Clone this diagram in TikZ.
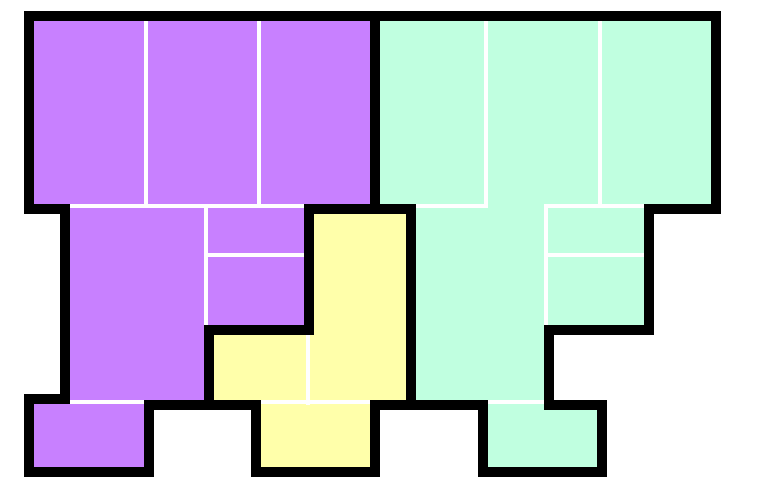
\documentclass[tikz,border=0pt]{standalone}
\definecolor{purp}{RGB}{200,128,255}
\definecolor{mint}{RGB}{192,255,224}
\definecolor{lemon}{RGB}{255,255,170}
\tikzset{
  outline/.style={draw=black,line width=10pt,line join=miter},
  inner/.style={draw=white,line width=4pt,line cap=butt},
}
\begin{document}
\begin{tikzpicture}[x=1pt,y=-1pt]
\useasboundingbox (0,0) rectangle (764,495);
% fills
\fill[purp] (29,16) -- (375,16) -- (375,209) -- (309,209) -- (309,330) -- (209,330) -- (209,405) -- (149,405) -- (149,472) -- (29,472) -- (29,399) -- (65,399) -- (65,209) -- (29,209) -- cycle;
\fill[mint] (375,16) -- (716,16) -- (716,209) -- (649,209) -- (649,330) -- (549,330) -- (549,405) -- (602,405) -- (602,472) -- (483,472) -- (483,405) -- (411,405) -- (411,209) -- (375,209) -- cycle;
\fill[lemon] (309,209) -- (411,209) -- (411,405) -- (375,405) -- (375,472) -- (256,472) -- (256,405) -- (209,405) -- (209,330) -- (309,330) -- cycle;
% inner white lines: purple
\draw[inner] (146,16) -- (146,206);
\draw[inner] (259,16) -- (259,206);
\draw[inner] (65,206) -- (309,206);
\draw[inner] (206,206) -- (206,330);
\draw[inner] (206,255) -- (309,255);
\draw[inner] (65,402) -- (149,402);
% yellow
\draw[inner] (308,330) -- (308,405);
\draw[inner] (256,402) -- (375,402);
% green
\draw[inner] (486,16) -- (486,206) -- (411,206);
\draw[inner] (599.5,16) -- (599.5,206);
\draw[inner] (546,330) -- (546,206) -- (649,206);
\draw[inner] (546,255) -- (649,255);
\draw[inner] (483,402) -- (549,402);
% black outlines
\draw[outline] (29,16) -- (375,16) -- (375,209) -- (309,209) -- (309,330) -- (209,330) -- (209,405) -- (149,405) -- (149,472) -- (29,472) -- (29,399) -- (65,399) -- (65,209) -- (29,209) -- cycle;
\draw[outline] (375,16) -- (716,16) -- (716,209) -- (649,209) -- (649,330) -- (549,330) -- (549,405) -- (602,405) -- (602,472) -- (483,472) -- (483,405) -- (411,405) -- (411,209) -- (375,209) -- cycle;
\draw[outline] (309,209) -- (411,209) -- (411,405) -- (375,405) -- (375,472) -- (256,472) -- (256,405) -- (209,405) -- (209,330) -- (309,330) -- cycle;
\end{tikzpicture}
\end{document}
